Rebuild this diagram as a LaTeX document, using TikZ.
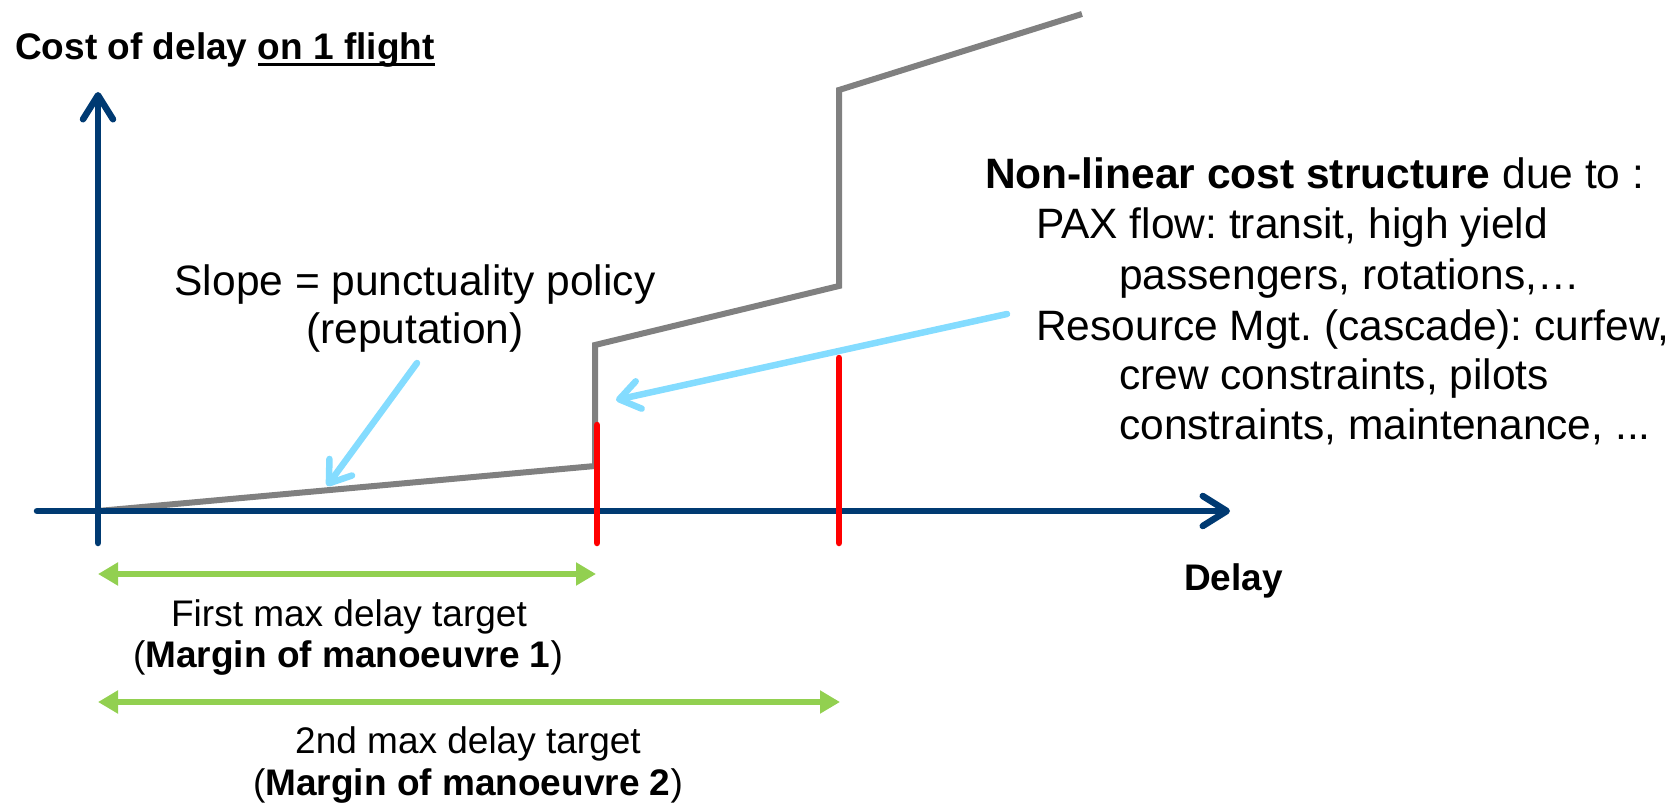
\documentclass[tikz,border=0pt]{standalone}
\usepackage{fontspec}
\setmainfont{Liberation Sans}
\usetikzlibrary{arrows.meta}
\frenchspacing

\definecolor{axisblue}{RGB}{0,58,114}
\definecolor{costgray}{RGB}{128,128,128}
\definecolor{limitred}{RGB}{255,0,0}
\definecolor{calloutcyan}{RGB}{132,220,255}
\definecolor{margingreen}{RGB}{146,208,80}

% underline sitting just below the baseline
\newcommand\ulbox[1]{\setbox0\hbox{#1}\rlap{\rule[-6pt]{\wd0}{2.6pt}}\box0}
\newcommand\bodyfont{\fontsize{42.5}{50}\selectfont}
\newcommand\labelfont{\fontsize{37}{41}\selectfont}

\tikzset{
  axisline/.style={draw=axisblue, line width=6.5pt, line cap=round,
    -{Straight Barb[length=24pt, width=30pt, line cap=round, line join=round]}},
  costline/.style={draw=costgray, line width=6pt, line join=miter},
  limitline/.style={draw=limitred, line width=6.5pt, line cap=round},
  callout/.style={draw=calloutcyan, line width=6.5pt, line cap=round,
    -{Straight Barb[length=20pt, width=28pt, line cap=round, line join=round]}},
  marginarrow/.style={draw=margingreen, line width=6pt,
    {Triangle[length=20pt, width=22pt]}-{Triangle[length=20pt, width=22pt]}},
  txt/.style={inner sep=0pt, font=\bodyfont},
  lbl/.style={inner sep=0pt, font=\labelfont},
}

\begin{document}
\begin{tikzpicture}[x=1pt, y=-1pt]
\useasboundingbox (0,0) rectangle (1676,805);

% axes
\coordinate (yb) at (98,543);
\coordinate (yt) at (98,92);
\coordinate (xl) at (37,511);
\coordinate (xr) at (1230,511);

% cost curve corners
\coordinate (c0) at (98,511);
\coordinate (c1) at (595,466);
\coordinate (c2) at (595,345);
\coordinate (c3) at (839,286);
\coordinate (c4) at (839,90);
\coordinate (c5) at (1082,14);

% delay limits
\coordinate (r1t) at (597,425);
\coordinate (r1b) at (597,543);
\coordinate (r2t) at (839,358);
\coordinate (r2b) at (839,543);

% margin arrows
\coordinate (g1l) at (98,574);
\coordinate (g1r) at (596,574);
\coordinate (g2l) at (98,702);
\coordinate (g2r) at (840,702);

% callout ends
\coordinate (a1s) at (417,363);
\coordinate (a1e) at (327,486);
\coordinate (a2s) at (1007,314);
\coordinate (a2e) at (616,400);

\draw[costline] (c0) -- (c1) -- (c2) -- (c3) -- (c4) -- (c5);
\draw[axisline] (yb) -- (yt);
\draw[axisline] (xl) -- (xr);
\draw[limitline] (r1t) -- (r1b);
\draw[limitline] (r2t) -- (r2b);
\draw[marginarrow] (g1l) -- (g1r);
\draw[marginarrow] (g2l) -- (g2r);
\draw[callout] (a1s) -- (a1e);
\draw[callout] (a2s) -- (a2e);

% axis titles
\node[lbl, anchor=base west] (ytitle) at (15,60)
  {\bfseries Cost of delay \ulbox{on 1 flight}};
\node[lbl, anchor=base west] (xtitle) at (1184,590) {\bfseries Delay};

% slope explanation
\node[txt, anchor=base] (slope1) at (415,295) {Slope = punctuality policy};
\node[txt, anchor=base] (slope2) at (415,343) {(reputation)};

% cost structure explanation
\node[txt, anchor=base west] (nl1) at (985,189) {\textbf{Non-linear cost structure} due to :};
\node[txt, anchor=base west] (nl2) at (1036,239) {PAX flow: transit, high yield};
\node[txt, anchor=base west] (nl3) at (1119,289) {passengers, rotations,…};
\node[txt, anchor=base west] (nl4) at (1036,340) {Resource Mgt. (cascade): curfew,};
\node[txt, anchor=base west] (nl5) at (1119,389) {crew constraints, pilots};
\node[txt, anchor=base west] (nl6) at (1119,439) {constraints, maintenance, ...};

% margin labels
\node[lbl, anchor=base] (m1a) at (349,626) {First max delay target};
\node[lbl, anchor=base] (m1b) at (348,667) {(\textbf{Margin of manoeuvre 1})};
\node[lbl, anchor=base] (m2a) at (468,753) {2nd max delay target};
\node[lbl, anchor=base] (m2b) at (468,795) {(\textbf{Margin of manoeuvre 2})};
\end{tikzpicture}
\end{document}
